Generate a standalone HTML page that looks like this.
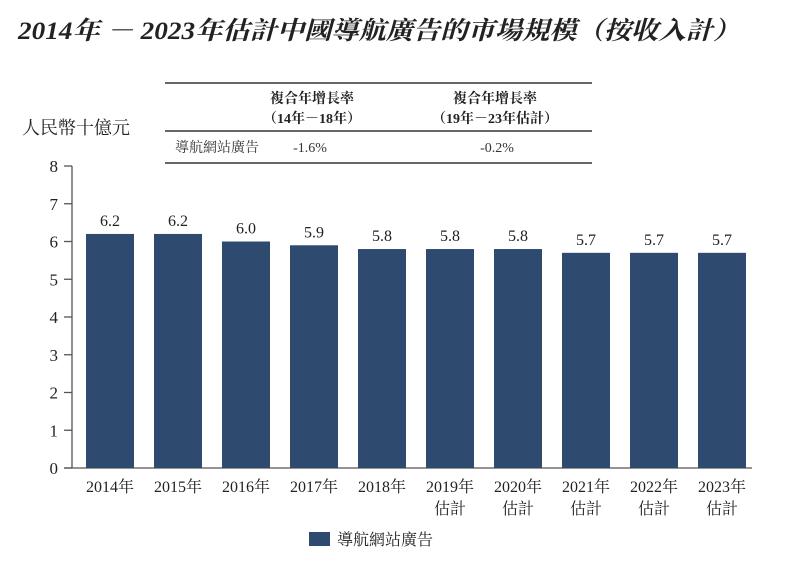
<!DOCTYPE html>
<html><head><meta charset="utf-8"><style>
body{margin:0;background:#fff;width:787px;height:564px;overflow:hidden;font-family:"Liberation Serif","Noto Serif CJK SC",serif;}
svg text{font-family:"Liberation Serif","Noto Serif CJK SC",serif;}
</style></head><body>
<svg width="787" height="564">
<text x="18" y="39" font-size="25" font-weight="bold" font-style="italic" fill="#222" textLength="722" lengthAdjust="spacingAndGlyphs">2014年 － 2023年估計中國導航廣告的市場規模（按收入計）</text>
<g>
<line x1="165" y1="83" x2="592" y2="83" stroke="#333" stroke-width="1.5"/>
<line x1="165" y1="131" x2="592" y2="131" stroke="#333" stroke-width="1.5"/>
<line x1="165" y1="163" x2="592" y2="163" stroke="#333" stroke-width="1.5"/>
<text x="312" y="103" font-size="14" font-weight="bold" text-anchor="middle" fill="#222">複合年增長率</text>
<text x="312" y="123" font-size="14" font-weight="bold" text-anchor="middle" fill="#222">（14年－18年）</text>
<text x="495" y="103" font-size="14" font-weight="bold" text-anchor="middle" fill="#222">複合年增長率</text>
<text x="495" y="123" font-size="14" font-weight="bold" text-anchor="middle" fill="#222">（19年－23年估計）</text>
<text x="175" y="152" font-size="14" fill="#333">導航網站廣告</text>
<text x="310" y="152" font-size="14" text-anchor="middle" fill="#333">-1.6%</text>
<text x="497" y="152" font-size="14" text-anchor="middle" fill="#333">-0.2%</text>
</g>
<text x="22" y="134" font-size="18" fill="#222">人民幣十億元</text>
<g id="plot"></g>
<rect x="309" y="532" width="21" height="14" fill="#2e4a6e"/>
<text x="337" y="545" font-size="16" fill="#222">導航網站廣告</text>
</svg>
<script>
const categories=["2014年","2015年","2016年","2017年","2018年","2019年","2020年","2021年","2022年","2023年"];
const subLabels=["","","","","","估計","估計","估計","估計","估計"];
const values=[6.2,6.2,6.0,5.9,5.8,5.8,5.8,5.7,5.7,5.7];
const yTicks=[0,1,2,3,4,5,6,7,8];
const NS="http://www.w3.org/2000/svg";
const g=document.getElementById('plot');
const y0=468,unit=37.75;
function y(v){return y0-v*unit;}
function x(i){return 86+i*68;}
const bw=48;
function mk(t,a){const e=document.createElementNS(NS,t);for(const k in a)e.setAttribute(k,a[k]);g.appendChild(e);return e;}
let ax=mk('line',{x1:72,y1:y(8),x2:72,y2:y0,stroke:'#555','stroke-width':1.3});


let bx=mk('line',{x1:64,y1:y0,x2:752,y2:y0,stroke:'#555','stroke-width':1.3});


yTicks.forEach(t=>{
  mk('line',{x1:64,y1:y(t),x2:72,y2:y(t),stroke:'#555','stroke-width':1.3});
  const tx=mk('text',{x:58,y:y(t)+6,'font-size':17,'text-anchor':'end',fill:'#222'});
  tx.textContent=t;
  
  
});
categories.forEach((c,i)=>{
  const r=mk('rect',{x:x(i),y:y(values[i]),width:bw,height:y0-y(values[i]),fill:'#2e4a6e'});
  
  
  const v=mk('text',{x:x(i)+bw/2,y:y(values[i])-8,'font-size':16,'text-anchor':'middle',fill:'#222'});
  v.textContent=values[i].toFixed(1);
  
  
  const l=mk('text',{x:x(i)+bw/2,y:492,'font-size':16,'text-anchor':'middle',fill:'#222'});
  l.textContent=c;
  
  
  if(subLabels[i]){
    const s=mk('text',{x:x(i)+bw/2,y:514,'font-size':16,'text-anchor':'middle',fill:'#222'});
    s.textContent=subLabels[i];
    
    
  }
});
</script>
</body></html>
